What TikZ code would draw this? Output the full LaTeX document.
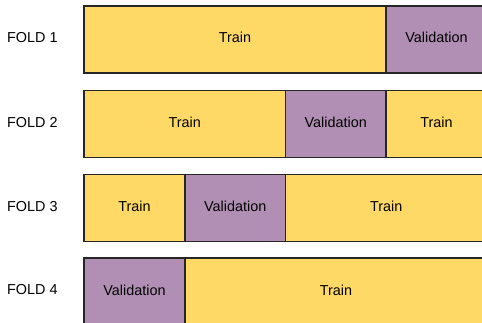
\documentclass[tikz,border=0pt]{standalone}
\usepackage{fontspec}
\setmainfont{Liberation Sans}
\begin{document}
\begin{tikzpicture}[x=1pt,y=-1pt,
  seg/.style={draw=black!85,line width=1.3pt,minimum height=67pt,inner sep=0pt,outer sep=0pt,anchor=north west,text height=10pt,text depth=3pt,font=\fontsize{14.4}{16}\selectfont},
  trainbox/.style={seg,fill=trainyellow},
  valbox/.style={seg,fill=valpurple},
  foldlabel/.style={anchor=west,inner sep=0pt,font=\fontsize{14.4}{16}\selectfont}]
\definecolor{trainyellow}{HTML}{FFD966}
\definecolor{valpurple}{HTML}{B18FB4}
\useasboundingbox (0,0) rectangle (482,323);
\begin{scope}
\clip (0,0) rectangle (482,323);
% fold 1
\node[trainbox,minimum width=302pt] (t1) at (84,6) {Train};
\node[valbox,minimum width=101pt] (v1) at (386,6) {Validation};
% fold 2
\node[trainbox,minimum width=201.5pt] (t2a) at (84,90.5) {Train};
\node[valbox,minimum width=100.5pt] (v2) at (285.5,90.5) {Validation};
\node[trainbox,minimum width=101pt] (t2b) at (386,90.5) {Train};
% fold 3
\node[trainbox,minimum width=101pt] (t3a) at (84,174.5) {Train};
\node[valbox,minimum width=100.5pt] (v3) at (185,174.5) {Validation};
\node[trainbox,minimum width=201.5pt] (t3b) at (285.5,174.5) {Train};
% fold 4
\node[valbox,minimum width=101pt] (v4) at (84,258) {Validation};
\node[trainbox,minimum width=302pt] (t4) at (185,258) {Train};
\end{scope}
\node[foldlabel] (f1) at (7,38) {FOLD 1};
\node[foldlabel] (f2) at (7,122.5) {FOLD 2};
\node[foldlabel] (f3) at (7,206.5) {FOLD 3};
\node[foldlabel] (f4) at (7,290) {FOLD 4};
\end{tikzpicture}
\end{document}
